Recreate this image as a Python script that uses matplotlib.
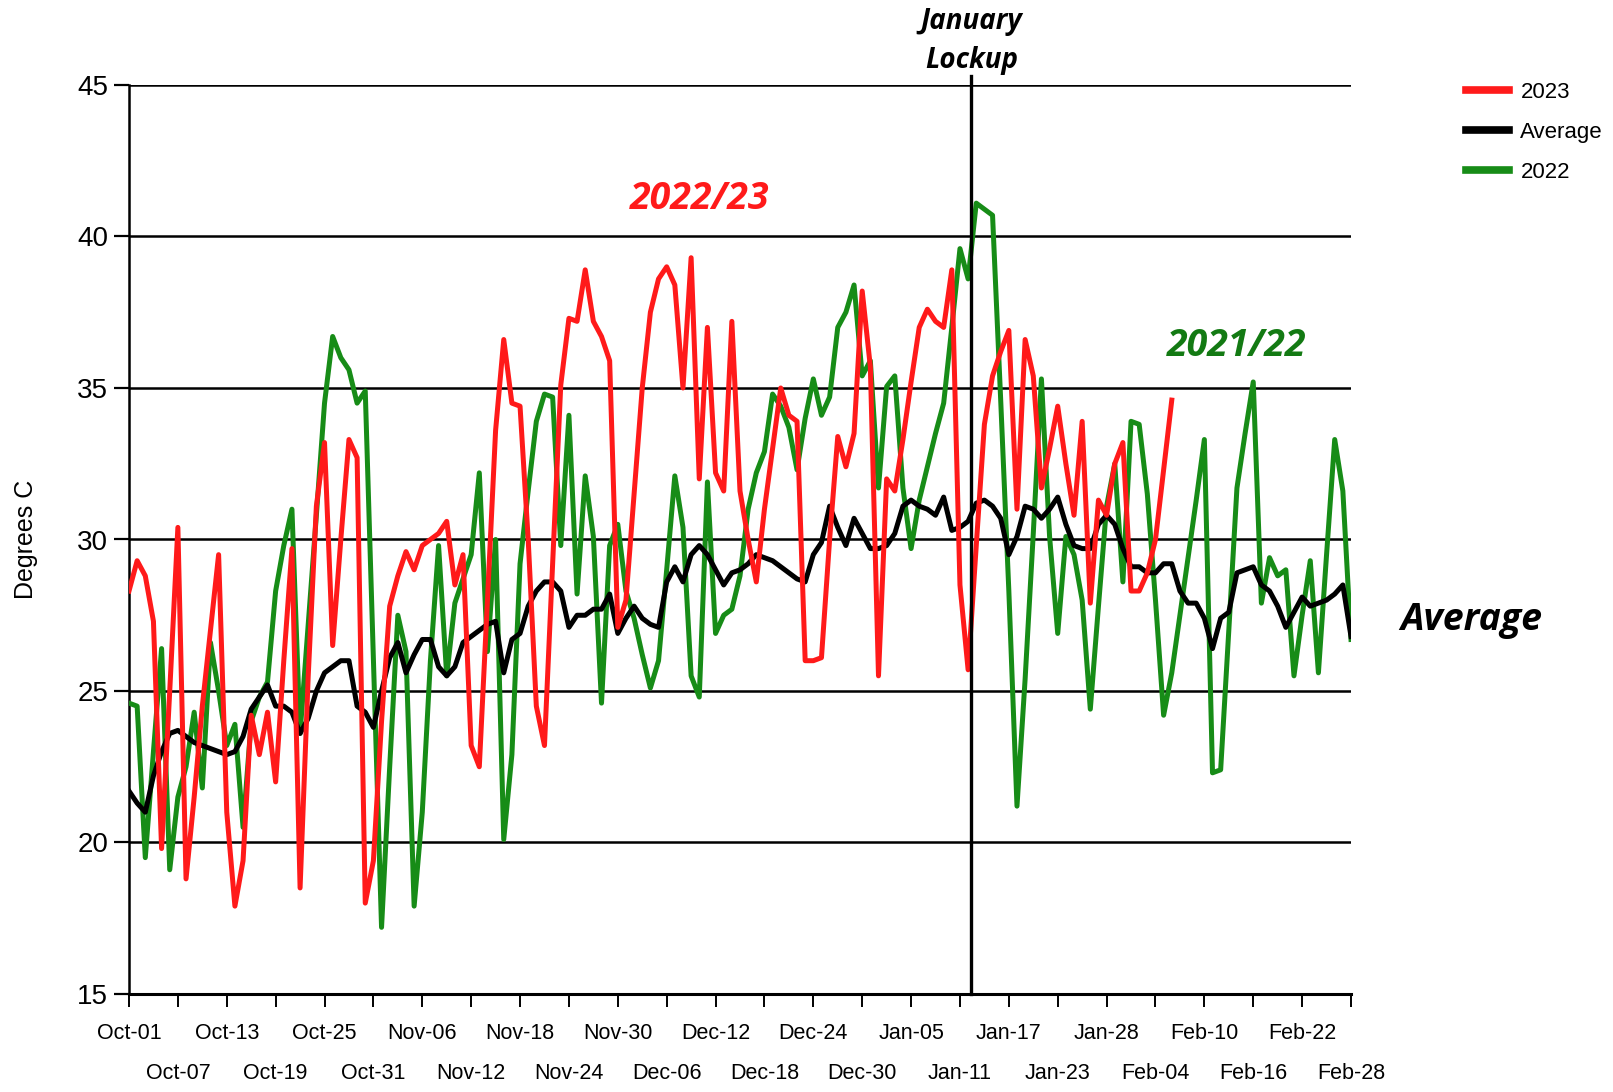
import matplotlib
matplotlib.use("Agg")
import matplotlib.pyplot as plt
from matplotlib import font_manager

# ---------------- data ----------------
tick_labels = ["Oct-01", "Oct-07", "Oct-13", "Oct-19", "Oct-25", "Oct-31", "Nov-06",
               "Nov-12", "Nov-18", "Nov-24", "Nov-30", "Dec-06", "Dec-12", "Dec-18",
               "Dec-24", "Dec-30", "Jan-05", "Jan-11", "Jan-17", "Jan-23", "Jan-28",
               "Feb-04", "Feb-10", "Feb-16", "Feb-22", "Feb-28"]

temp_2023 = [28.3, 29.3, 28.8, 27.3, 19.8, 25.0, 30.4, 18.8, 21.5, 24.5,
             27.0, 29.5, 21.0, 17.9, 19.4, 24.2, 22.9, 24.3, 22.0, 26.0,
             29.7, 18.5, 25.5, 31.1, 33.2, 26.5, 30.0, 33.3, 32.7, 18.0,
             19.4, 24.0, 27.8, 28.8, 29.6, 29.0, 29.8, 30.0, 30.2, 30.6,
             28.5, 29.5, 23.2, 22.5, 28.0, 33.6, 36.6, 34.5, 34.4, 30.0,
             24.5, 23.2, 29.2, 35.1, 37.3, 37.2, 38.9, 37.2, 36.7, 35.9,
             27.1, 28.0, 31.5, 35.0, 37.5, 38.6, 39.0, 38.4, 35.0, 39.3,
             32.0, 37.0, 32.2, 31.6, 37.2, 31.6, 30.0, 28.6, 31.0, 33.0,
             35.0, 34.1, 33.9, 26.0, 26.0, 26.1, 30.0, 33.4, 32.4, 33.5,
             38.2, 35.7, 25.5, 32.0, 31.6, 33.3, 35.2, 37.0, 37.6, 37.2,
             37.0, 38.9, 28.5, 25.7, 29.8, 33.8, 35.4, 36.2, 36.9, 31.0,
             36.6, 35.4, 31.7, 33.0, 34.4, 32.5, 30.8, 33.9, 27.9, 31.3,
             30.8, 32.5, 33.2, 28.3, 28.3, 28.9, 30.0, 32.3, 34.6]

temp_avg = [21.7, 21.3, 21.0, 22.2, 23.0, 23.6, 23.7, 23.5, 23.3, 23.2,
            23.1, 23.0, 22.9, 23.0, 23.5, 24.4, 24.8, 25.2, 24.5, 24.5,
            24.3, 23.6, 24.1, 25.0, 25.6, 25.8, 26.0, 26.0, 24.5, 24.3,
            23.8, 25.0, 26.1, 26.6, 25.6, 26.2, 26.7, 26.7, 25.8, 25.5,
            25.8, 26.6, 26.8, 27.0, 27.2, 27.3, 25.6, 26.7, 26.9, 27.8,
            28.3, 28.6, 28.6, 28.3, 27.1, 27.5, 27.5, 27.7, 27.7, 28.2,
            26.9, 27.4, 27.8, 27.4, 27.2, 27.1, 28.6, 29.1, 28.6, 29.5,
            29.8, 29.5, 29.0, 28.5, 28.9, 29.0, 29.2, 29.5, 29.4, 29.3,
            29.1, 28.9, 28.7, 28.6, 29.5, 29.9, 31.1, 30.4, 29.8, 30.7,
            30.2, 29.7, 29.7, 29.8, 30.2, 31.1, 31.3, 31.1, 31.0, 30.8,
            31.4, 30.3, 30.4, 30.6, 31.2, 31.3, 31.1, 30.7, 29.5, 30.1,
            31.1, 31.0, 30.7, 31.0, 31.4, 30.5, 29.8, 29.7, 29.7, 30.5,
            30.8, 30.5, 29.7, 29.1, 29.1, 28.9, 28.9, 29.2, 29.2, 28.3,
            27.9, 27.9, 27.4, 26.4, 27.4, 27.6, 28.9, 29.0, 29.1, 28.5,
            28.3, 27.8, 27.1, 27.6, 28.1, 27.8, 27.9, 28.0, 28.2, 28.5,
            26.8]

temp_2022 = [24.6, 24.5, 19.5, 23.0, 26.4, 19.1, 21.5, 22.5, 24.3, 21.8,
             26.6, 25.0, 23.2, 23.9, 20.5, 24.0, 24.8, 25.3, 28.3, 29.8,
             31.0, 23.6, 27.2, 30.8, 34.5, 36.7, 36.0, 35.6, 34.5, 34.9,
             26.0, 17.2, 22.5, 27.5, 26.3, 17.9, 21.0, 26.0, 29.8, 25.5,
             27.9, 28.7, 29.5, 32.2, 26.3, 30.0, 20.1, 22.9, 29.2, 31.6,
             33.9, 34.8, 34.7, 29.8, 34.1, 28.2, 32.1, 30.1, 24.6, 29.8,
             30.5, 28.3, 27.4, 26.2, 25.1, 26.0, 29.0, 32.1, 30.4, 25.5,
             24.8, 31.9, 26.9, 27.5, 27.7, 28.8, 31.0, 32.2, 32.9, 34.8,
             34.4, 33.7, 32.3, 34.0, 35.3, 34.1, 34.7, 37.0, 37.5, 38.4,
             35.4, 35.9, 31.7, 35.05, 35.4, 31.7, 29.7, 31.3, 32.4, 33.5,
             34.5, 37.0, 39.6, 38.6, 41.1, 40.9, 40.7, 34.6, 28.3, 21.2,
             25.4, 30.2, 35.3, 30.1, 26.9, 30.1, 29.5, 28.0, 24.4, 27.8,
             31.1, 32.5, 28.6, 33.9, 33.8, 31.5, 28.0, 24.2, 25.6, 27.5,
             29.4, 31.3, 33.3, 22.3, 22.4, 27.0, 31.7, 33.5, 35.2, 27.9,
             29.4, 28.8, 29.0, 25.5, 27.5, 29.3, 25.6, 29.5, 33.3, 31.6,
             26.7]

lockup_day = 103.4

# ---------------- fonts ----------------
def has_font(name):
    try:
        font_manager.findfont(font_manager.FontProperties(family=name),
                              fallback_to_default=False)
        return True
    except Exception:
        return False

narrow = "Liberation Sans Narrow" if has_font("Liberation Sans Narrow") else "Liberation Sans"
plt.rcParams["font.family"] = [narrow, "DejaVu Sans"]
anno_family = ["Open Sans", "DejaVu Sans"]

# ---------------- figure ----------------
W, H = 1613, 1092
fig = plt.figure(figsize=(W / 100, H / 100), dpi=100)
fig.patch.set_facecolor("white")
left, right, top, bottom = 129, 1351, 85, 994
ax = fig.add_axes([left / W, 1 - bottom / H, (right - left) / W, (bottom - top) / H])

red = "#ff1a1a"
green = "#178c17"

days_r = list(range(len(temp_2023)))
days_a = list(range(len(temp_avg)))
days_g = list(range(len(temp_2022)))

ax.plot(days_g, temp_2022, color=green, lw=3.6, label="2022", zorder=3)
ax.plot(days_a, temp_avg, color="black", lw=3.6, label="Average", zorder=4)
ax.plot(days_r, temp_2023, color=red, lw=3.6, label="2023", zorder=5)

ax.set_xlim(0, 150)
ax.set_ylim(15, 45)

# horizontal grid
for yv in range(15, 46, 5):
    ax.axhline(yv, color="black", lw=1.8, zorder=1)

# January lockup line
ax.plot([lockup_day, lockup_day], [15, 45.3], color="black", lw=2.4, zorder=6, clip_on=False)

# spines
for s in ["top", "right"]:
    ax.spines[s].set_visible(False)
ax.spines["left"].set_linewidth(1.8)
ax.spines["bottom"].set_linewidth(2.2)

# y ticks
ax.set_yticks(range(15, 46, 5))
ax.tick_params(axis="y", length=11, width=1.6, labelsize=20, pad=4)

# x ticks: alternating rows via major/minor
pos = list(range(0, 151, 6))
ax.set_xticks(pos[0::2])
ax.set_xticklabels(tick_labels[0::2])
ax.set_xticks(pos[1::2], minor=True)
ax.set_xticklabels(tick_labels[1::2], minor=True)
ax.tick_params(axis="x", which="major", length=9, width=1.4, labelsize=15.5, pad=12)
ax.tick_params(axis="x", which="minor", length=9, width=1.4, labelsize=15.5, pad=41)

ax.set_ylabel("Degrees C", fontsize=18, family=["Liberation Sans", "DejaVu Sans"], labelpad=28)

# annotations
ax.text(lockup_day, 47.1, "January", ha="center", va="center", fontsize=20,
        fontweight="bold", fontstyle="italic", family=anno_family, clip_on=False)
ax.text(lockup_day, 45.8, "Lockup", ha="center", va="center", fontsize=20,
        fontweight="bold", fontstyle="italic", family=anno_family, clip_on=False)
ax.text(70.1, 41.24, "2022/23", ha="center", va="center", fontsize=27, color=red,
        fontweight="bold", fontstyle="italic", family=anno_family)
ax.text(136.0, 36.39, "2021/22", ha="center", va="center", fontsize=27, color="#137a13",
        fontweight="bold", fontstyle="italic", family=anno_family)
ax.text(164.7, 27.34, "Average", ha="center", va="center", fontsize=27, color="black",
        fontweight="bold", fontstyle="italic", family=anno_family, clip_on=False)

# legend
handles, labels = ax.get_legend_handles_labels()
order = [labels.index("2023"), labels.index("Average"), labels.index("2022")]
leg = ax.legend([handles[i] for i in order], [labels[i] for i in order],
                loc="upper left", bbox_to_anchor=(1466 / W, 1 - 82 / H),
                bbox_transform=fig.transFigure, frameon=False, fontsize=16,
                handlelength=1.95, handletextpad=0.5, labelspacing=0.85,
                borderaxespad=0, borderpad=0)
for line in leg.get_lines():
    line.set_linewidth(5.5)

fig.savefig("out.png", dpi=100, facecolor="white")
